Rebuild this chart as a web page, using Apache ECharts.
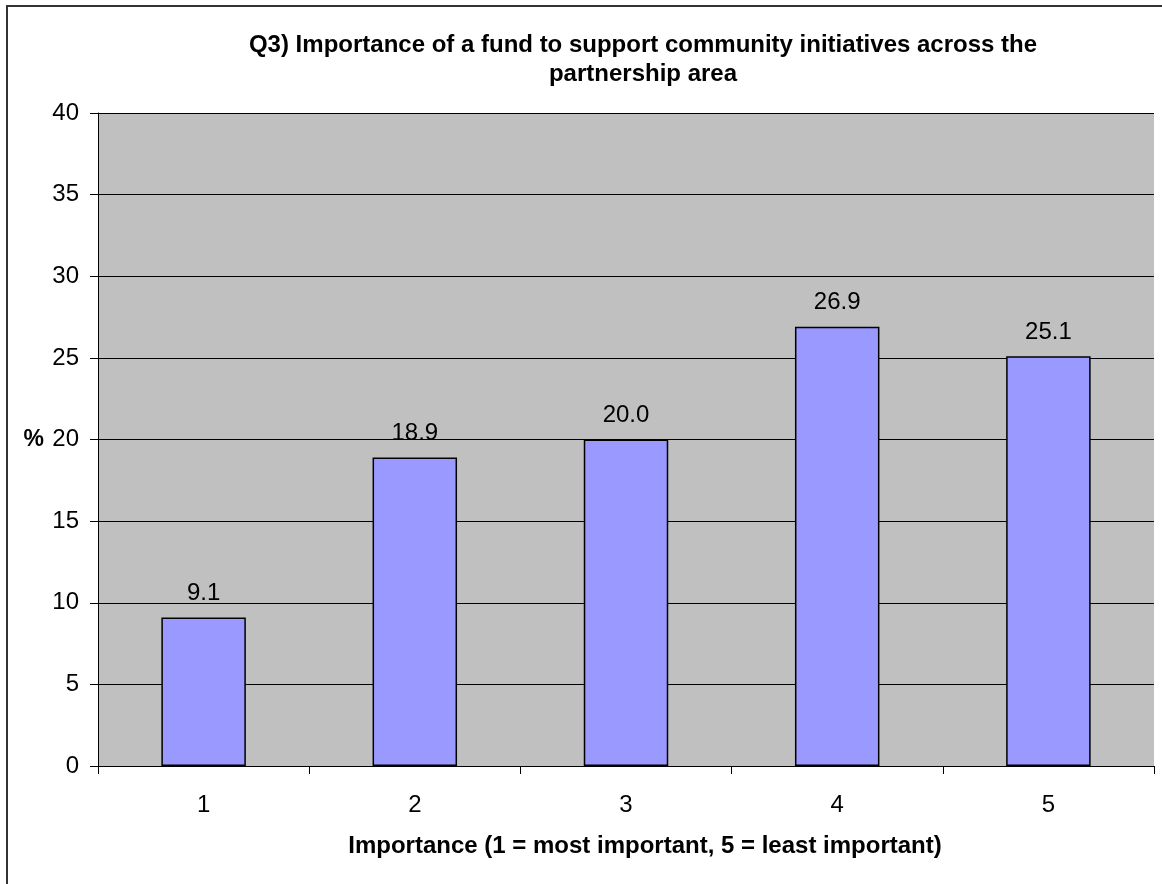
<!DOCTYPE html>
<html>
<head>
<meta charset="utf-8">
<script src="https://cdn.jsdelivr.net/npm/echarts@6/dist/echarts.min.js"></script>
<style>
html,body{margin:0;padding:0;background:#fff;}
#chart{width:1162px;height:884px;}
</style>
</head>
<body>
<div id="chart"></div>
<script>
const titleLines = ['Q3) Importance of a fund to support community initiatives across the', 'partnership area'];
const categories = ['1', '2', '3', '4', '5'];
const values = [9.1, 18.9, 20.0, 26.9, 25.1];
const xAxisTitle = 'Importance (1 = most important, 5 = least important)';
const yAxisTitle = '%';
const yMin = 0, yMax = 40, yStep = 5;

const FONT = '"Liberation Sans", Arial, sans-serif';
const chart = echarts.init(document.getElementById('chart'), null, {renderer: 'canvas'});
chart.setOption({
  animation: false,
  backgroundColor: '#ffffff',
  title: {
    text: titleLines.join('\n'),
    left: 638,
    top: 26,
    textAlign: 'center',
    textStyle: {fontFamily: FONT, fontSize: 24, fontWeight: 'bold', color: '#000', lineHeight: 29}
  },
  graphic: [{
    type: 'rect',
    shape: {x: 7, y: 6, width: 1200, height: 900},
    style: {fill: 'none', stroke: '#333', lineWidth: 2},
    silent: true, z: -1
  }],
  grid: {
    left: 98, right: 8, top: 113, bottom: 118,
    show: true, backgroundColor: '#C0C0C0', borderWidth: 0
  },
  xAxis: {
    type: 'category',
    data: categories,
    boundaryGap: true,
    name: xAxisTitle,
    nameLocation: 'middle',
    nameGap: 68,
    nameTextStyle: {fontFamily: FONT, fontSize: 24, fontWeight: 'bold', color: '#000', padding: [0, 0, 0, 38]},
    axisLine: {lineStyle: {color: '#000', width: 1}},
    axisTick: {show: true, length: 8, alignWithLabel: false, lineStyle: {color: '#000'}},
    axisLabel: {fontFamily: FONT, fontSize: 24, color: '#000', margin: 27},
    splitLine: {show: false}
  },
  yAxis: {
    type: 'value',
    min: yMin, max: yMax, interval: yStep,
    name: yAxisTitle,
    nameLocation: 'middle',
    nameRotate: 0,
    nameGap: 54,
    nameTextStyle: {fontFamily: FONT, fontSize: 23, fontWeight: 'bold', color: '#000'},
    axisLine: {show: true, lineStyle: {color: '#000', width: 1}},
    axisTick: {show: true, length: 8, lineStyle: {color: '#000'}},
    axisLabel: {fontFamily: FONT, fontSize: 24, color: '#000', margin: 19},
    splitLine: {show: true, lineStyle: {color: '#000', width: 1}}
  },
  series: [{
    type: 'bar',
    data: values,
    barCategoryGap: '60%',
    itemStyle: {color: '#9999FF', borderColor: '#000', borderWidth: 1.5},
    label: {
      show: true,
      position: 'top',
      distance: 12,
      fontFamily: FONT,
      fontSize: 24,
      color: '#000',
      formatter: p => p.value.toFixed(1)
    }
  }]
});
</script>
</body>
</html>
